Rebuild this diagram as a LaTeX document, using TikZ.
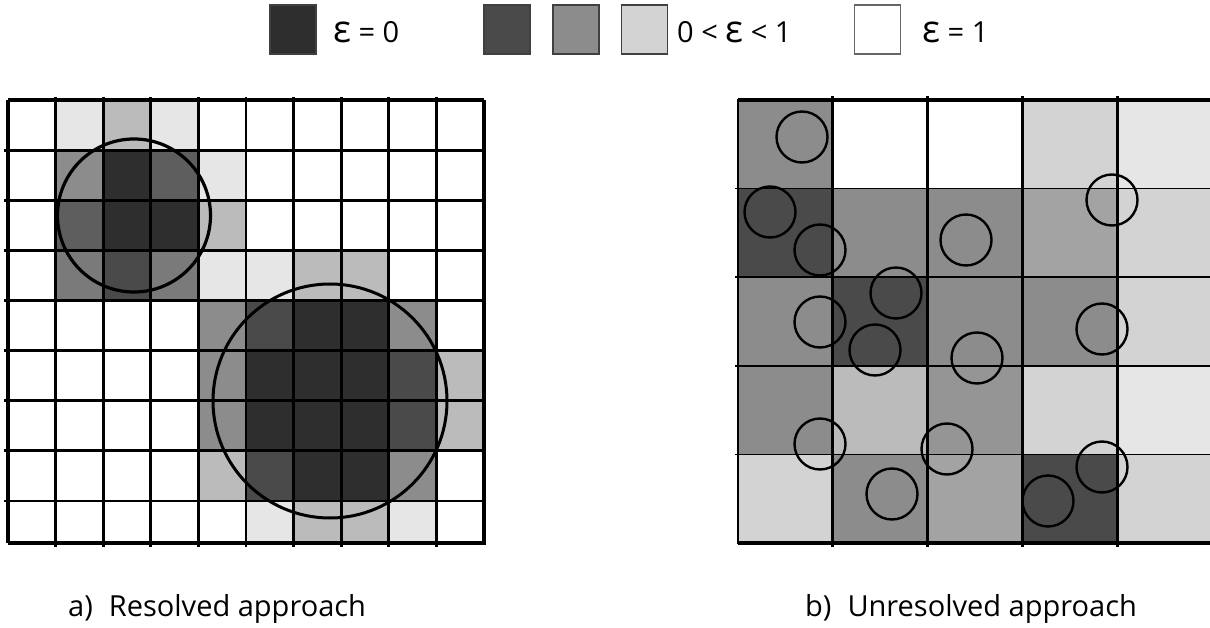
\documentclass[tikz,border=0pt]{standalone}
\usepackage{fontspec}
\setmainfont{Open Sans}
\definecolor{cW}{HTML}{FFFFFF}
\definecolor{cE}{HTML}{E6E6E6}
\definecolor{cB}{HTML}{BBBBBB}
\definecolor{cG}{HTML}{8C8C8C}
\definecolor{cK}{HTML}{2E2E2E}
\definecolor{cM}{HTML}{5E5E5E}
\definecolor{cN}{HTML}{7A7A7A}
\definecolor{cH}{HTML}{4A4A4A}
\definecolor{cL}{HTML}{D3D3D3}
\definecolor{cA}{HTML}{A3A3A3}
\definecolor{cQ}{HTML}{959595}
\newcommand{\bigeps}{\scalebox{1.3}{ε}}
\begin{document}
\begin{tikzpicture}[x=1pt,y=-1pt,
  legbox/.style={draw=black!75,line width=1.4pt,minimum width=46pt,minimum height=49pt,inner sep=0pt},
  legtext/.style={anchor=base west,inner sep=0pt,font=\fontsize{29}{34}\selectfont},
  captext/.style={anchor=base west,inner sep=0pt,font=\fontsize{29}{34}\selectfont},
  thickline/.style={line width=2.8pt,line cap=rect},
  thinline/.style={line width=1.8pt},
  bigcirc/.style={draw=black,line width=3.2pt},
  smallcirc/.style={draw=black,line width=2.4pt}]
\useasboundingbox (0,0) rectangle (1210,628);

% ---------- legend ----------
\node[legbox,fill=cK] (l1) at (293,29.5) {};
\node[legtext] (t1) at (333,43) {\bigeps{} = 0};
\node[legbox,fill=cH] (l2) at (507,29.5) {};
\node[legbox,fill=cG] (l3) at (576,29.5) {};
\node[legbox,fill=cL] (l4) at (644.5,29.5) {};
\node[legtext] (t2) at (677,43) {0 < \bigeps{} < 1};
\node[legbox,fill=white,draw=black!60] (l5) at (877.5,29.5) {};
\node[legtext] (t3) at (922,43) {\bigeps{} = 1};

% ---------- left grid (resolved) ----------
\begin{scope}
\clip (8,100) rectangle (484,543);
\foreach \rowlist [count=\r from 0] in {
  {W,E,B,E,W,W,W,W,W,W},
  {W,G,K,M,E,W,W,W,W,W},
  {W,M,K,K,B,W,W,W,W,W},
  {W,N,H,N,E,E,B,B,W,W},
  {W,W,W,W,G,H,K,K,G,W},
  {W,W,W,W,G,K,K,K,H,B},
  {W,W,W,W,G,K,K,K,H,B},
  {W,W,W,W,B,H,K,K,G,W},
  {W,W,W,W,W,E,B,B,E,W}} {
  \foreach \cc [count=\c from 0] in \rowlist {
    \fill[c\cc] (8+47.6*\c,100+50.125*\r) rectangle ++(47.6,50.125);
  }
}
\end{scope}
\foreach \i in {1,...,9} \draw[thickline] (8+47.6*\i,98) -- (8+47.6*\i,546);
\foreach \j in {1,...,8} \draw[thickline] (5,100+50.125*\j) -- (484,100+50.125*\j);
\draw[line width=3.2pt] (8,100) -- (484,100);
\draw[line width=3.2pt] (8,100) -- (8,543);
\draw[line width=4pt] (8,543) -- (484,543) -- (484,100);
\draw[bigcirc] (134,215.5) circle[radius=76.5];
\draw[bigcirc,line width=3pt] (330,401) circle[radius=117];

% ---------- right grid (unresolved) ----------
\begin{scope}
\clip (738,100) rectangle (1210,543);
\foreach \rowlist [count=\r from 0] in {
  {G,W,W,L,E},
  {H,G,G,A,L},
  {G,H,G,G,L},
  {G,B,Q,L,E},
  {L,G,A,H,L}} {
  \foreach \cc [count=\c from 0] in \rowlist {
    \fill[c\cc] (738+94.8*\c,100+88.6*\r) rectangle ++(94.8,88.6);
  }
}
\end{scope}
\foreach \j in {1,...,4} \draw[thinline] (735,100+88.6*\j) -- (1210,100+88.6*\j);
\foreach \i in {1,...,4} \draw[thickline] (738+94.8*\i,97) -- (738+94.8*\i,546);
\draw[thickline] (738,100) -- (738,543);
\draw[line width=3.4pt] (738,100) -- (1210,100);
\draw[line width=3.4pt] (738,543) -- (1210,543);
\foreach \px/\py in {802/137, 770/212, 820/250, 966/240, 1112/200, 896/293,
  820/322, 875/350, 977/358, 1102/329, 820/444, 947/449, 892/494, 1048/501, 1102/467}
  \draw[smallcirc] (\px,\py) circle[radius=25.5];

% ---------- captions ----------
\node[captext] (ca) at (68,616) {a)\hspace{0.55em}Resolved approach};
\node[captext] (cb) at (805,616) {b)\hspace{0.55em}Unresolved approach};
\end{tikzpicture}
\end{document}
